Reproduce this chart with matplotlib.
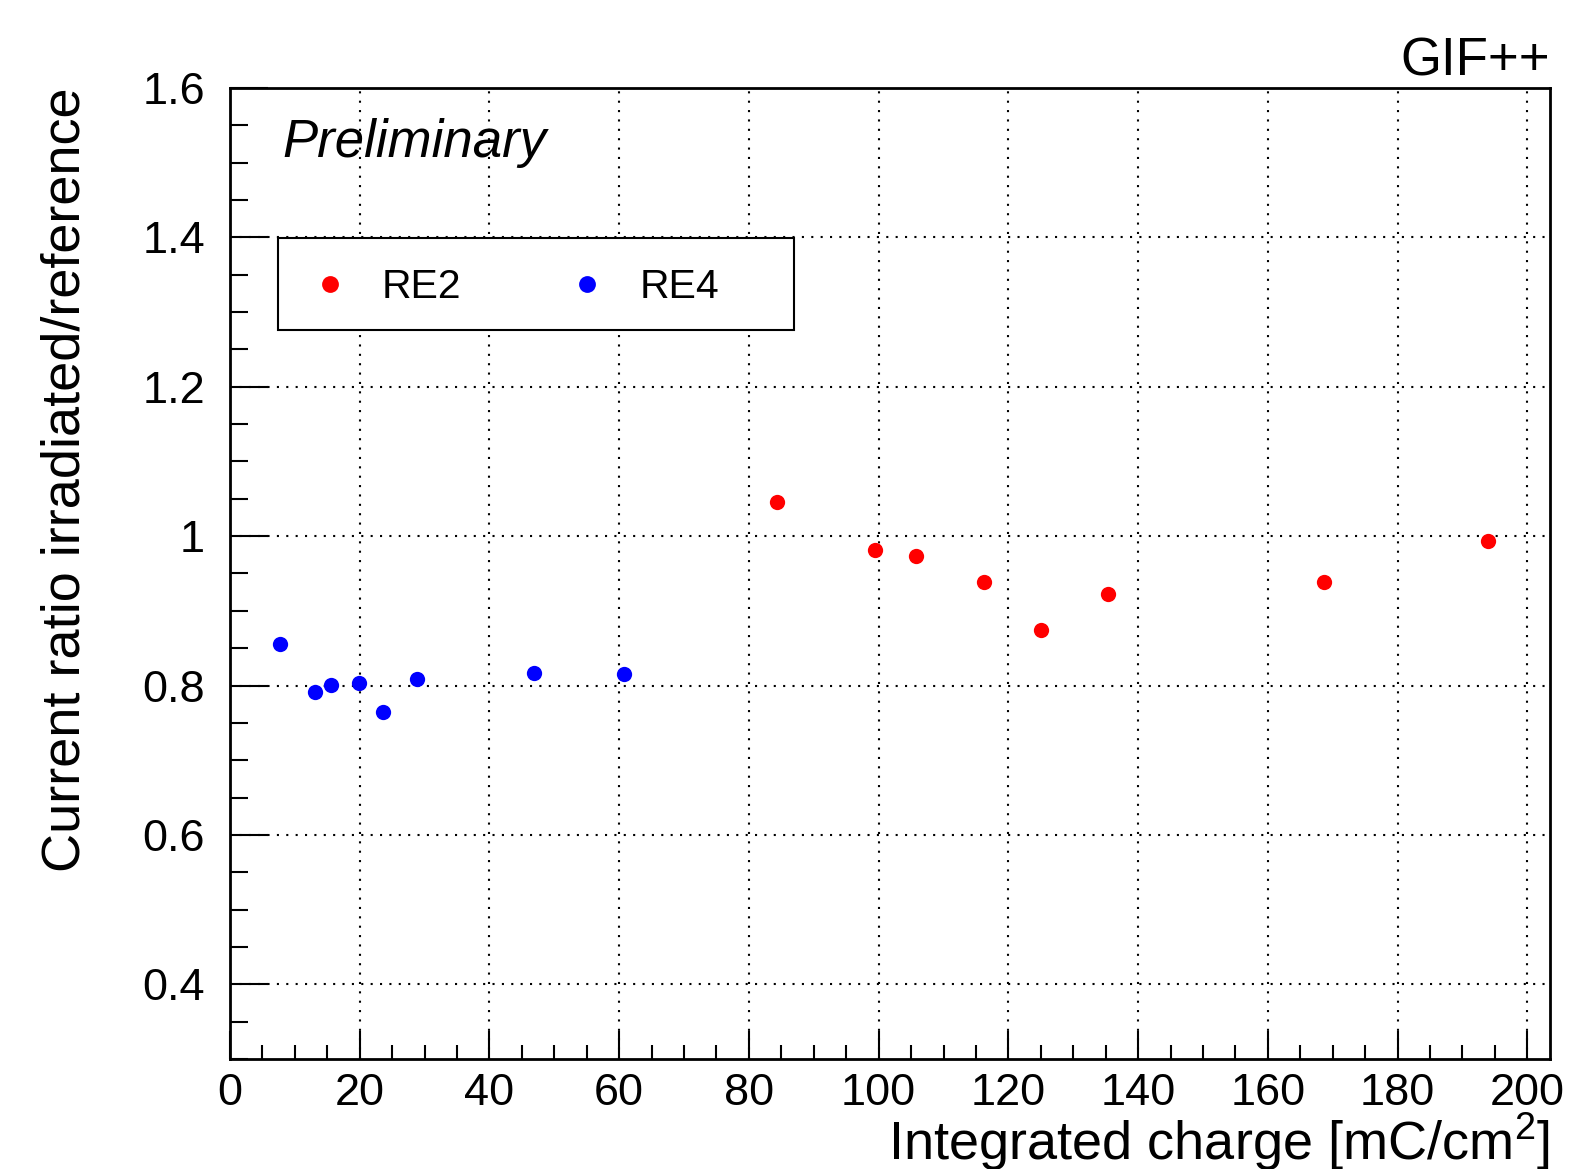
import matplotlib
matplotlib.use("Agg")
import matplotlib.pyplot as plt
from matplotlib.ticker import MultipleLocator, FixedFormatter, FixedLocator
from matplotlib.patches import Rectangle

plt.rcParams['font.family'] = ['Liberation Sans', 'DejaVu Sans']
plt.rcParams['mathtext.fontset'] = 'custom'
plt.rcParams['mathtext.rm'] = 'Liberation Sans'
plt.rcParams['mathtext.default'] = 'regular'

# Data
re2_x = [84.3, 99.5, 105.8, 116.3, 125.1, 135.4, 168.6, 194.0]
re2_y = [1.046, 0.981, 0.974, 0.939, 0.874, 0.922, 0.938, 0.994]
re4_x = [7.7, 13.1, 15.6, 19.9, 23.6, 28.9, 46.9, 60.8]
re4_y = [0.855, 0.791, 0.801, 0.803, 0.765, 0.809, 0.817, 0.815]

x_ticks = [0, 20, 40, 60, 80, 100, 120, 140, 160, 180, 200]
y_ticks = [0.4, 0.6, 0.8, 1.0, 1.2, 1.4, 1.6]
y_tick_labels = ["0.4", "0.6", "0.8", "1", "1.2", "1.4", "1.6"]

W, H = 1570, 1169
AX_L, AX_R, AX_T, AX_B = 230, 1550, 88, 1059
fig = plt.figure(figsize=(W / 100, H / 100), dpi=100)
ax = fig.add_axes([AX_L / W, 1 - AX_B / H, (AX_R - AX_L) / W, (AX_B - AX_T) / H])


def axfrac(px, py):
    return (px - AX_L) / (AX_R - AX_L), (AX_B - py) / (AX_B - AX_T)


ax.plot(re2_x, re2_y, 'o', color='#ff0000', markersize=11, markeredgewidth=0, label='RE2', zorder=5)
ax.plot(re4_x, re4_y, 'o', color='#0000ff', markersize=11, markeredgewidth=0, label='RE4', zorder=5)

ax.set_xlim(0, 203.5)
ax.set_ylim(0.3, 1.6)
ax.xaxis.set_major_locator(FixedLocator(x_ticks))
ax.xaxis.set_minor_locator(MultipleLocator(5))
ax.yaxis.set_major_locator(FixedLocator(y_ticks))
ax.yaxis.set_major_formatter(FixedFormatter(y_tick_labels))
ax.yaxis.set_minor_locator(MultipleLocator(0.05))

ax.grid(True, which='major', color='black', linestyle=(0, (1, 3.5)), linewidth=1.5)
ax.set_axisbelow(True)

for s in ax.spines.values():
    s.set_linewidth(2)

ax.tick_params(axis='x', which='major', direction='in', length=20, width=1.5, labelsize=32.5, pad=10, top=False)
ax.tick_params(axis='x', which='minor', direction='in', length=10, width=1.5, top=False)
ax.tick_params(axis='y', which='major', direction='in', length=27, width=1.5, labelsize=32.5, pad=18, right=False)
ax.tick_params(axis='y', which='minor', direction='in', length=13, width=1.5, right=False)

# legend box
x0, y1 = axfrac(278, 238)
x1, y0 = axfrac(794, 330)
ax.add_patch(Rectangle((x0, y0), x1 - x0, y1 - y0, transform=ax.transAxes,
                       facecolor='white', edgecolor='black', linewidth=1.5, zorder=6))

leg_fs = 29.5
hl_px = leg_fs * 1.0 * 100 / 72
ax_anchor = axfrac(330 - hl_px / 2, 287)
leg = ax.legend(loc='center left', bbox_to_anchor=ax_anchor,
                ncol=2, fontsize=leg_fs, frameon=False,
                borderpad=0, handletextpad=(382 - 330 - hl_px / 2) * 0.72 / leg_fs,
                columnspacing=2.57, handlelength=1.0, borderaxespad=0, markerscale=1.1)
leg.set_zorder(7)

ax.text(*axfrac(282, 157), 'Preliminary', transform=ax.transAxes,
        fontsize=38, style='italic', ha='left', va='baseline', zorder=7)

fig.text(1550 / W, 1 - 75 / H, 'GIF++', ha='right', va='baseline', fontsize=38)
fig.text(1550 / W, 1 - 1160 / H, 'Integrated charge [mC/cm$^{2}$]', ha='right', va='baseline', fontsize=39)
fig.text(40 / W, 1 - 88 / H, 'Current ratio irradiated/reference', ha='left', va='top', rotation=90, fontsize=39)

fig.savefig('out.png', dpi=100)
